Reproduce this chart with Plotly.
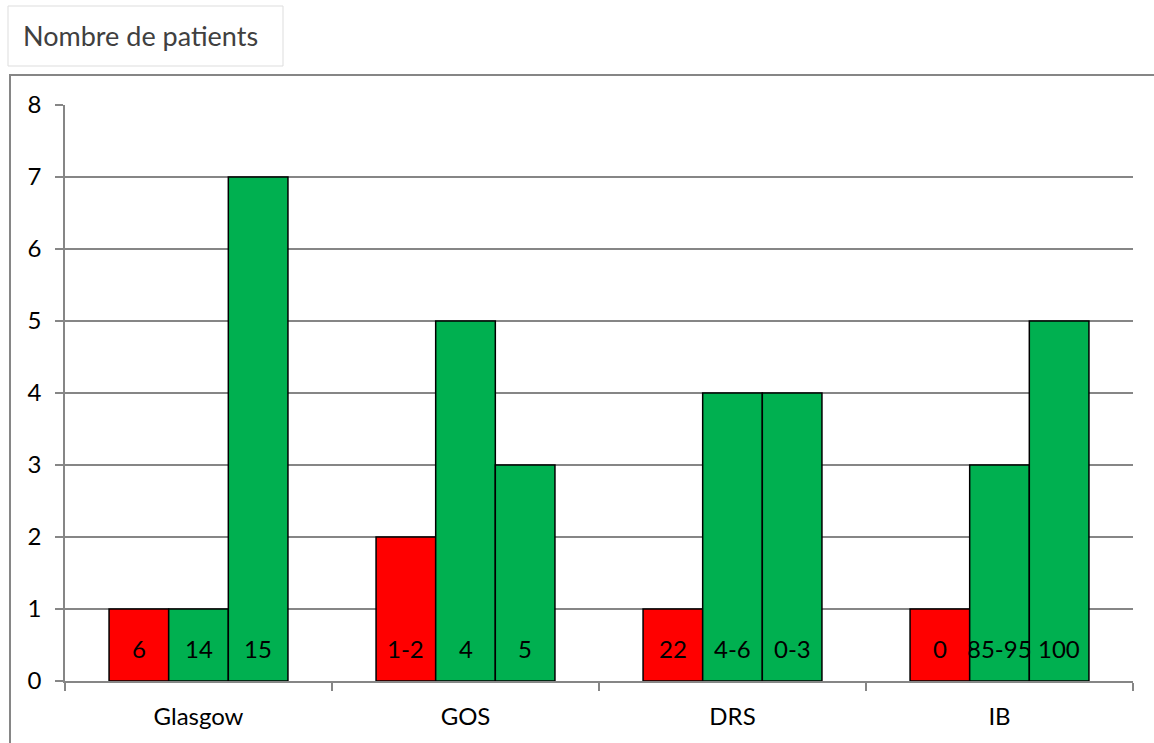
import plotly.graph_objects as go

categories = ["Glasgow", "GOS", "DRS", "IB"]
red_values = [1, 2, 1, 1]
green1_values = [1, 5, 4, 3]
green2_values = [7, 3, 4, 5]
red_labels = ["6", "1-2", "22", "0"]
green1_labels = ["14", "4", "4-6", "85-95"]
green2_labels = ["15", "5", "0-3", "100"]
y_ticks = [0, 1, 2, 3, 4, 5, 6, 7, 8]

FONT = "Lato, Calibri, Carlito, sans-serif"
W, H = 1154, 743
L, R, T, B = 65, 21, 105, 62
PW = W - L - R
PH = H - T - B

def px(x):
    return (x - L) / PW

def py(y):
    return (H - B - y) / PH

fig = go.Figure()
series = [
    (red_values, red_labels, "#FF0000"),
    (green1_values, green1_labels, "#00B050"),
    (green2_values, green2_labels, "#00B050"),
]
for vals, labs, col in series:
    fig.add_trace(go.Bar(
        x=categories, y=vals, marker=dict(color=col, line=dict(color="black", width=1.5)),
        showlegend=False, hoverinfo="skip",
    ))

bargap = 0.33
bw = (1 - bargap) / 3
annotations = []
for j, (vals, labs, col) in enumerate(series):
    for i, lab in enumerate(labs):
        annotations.append(dict(
            x=i + (j - 1) * bw, y=0, xref="x", yref="y", text=lab, showarrow=False,
            yanchor="middle", xanchor="center", yshift=33,
            font=dict(family=FONT, size=24, color="black"),
        ))

annotations.append(dict(
    x=px(21), y=py(35), xref="paper", yref="paper", text="Nombre de patients",
    showarrow=False, xanchor="left", yanchor="middle",
    font=dict(family=FONT, size=27, color="#404040"),
))

shapes = [
    dict(type="rect", xref="paper", yref="paper", x0=px(10), x1=px(1170), y0=py(800), y1=py(75),
         line=dict(color="#868686", width=2), fillcolor="rgba(0,0,0,0)", layer="below"),
    dict(type="rect", xref="paper", yref="paper", x0=px(8), x1=px(283), y0=py(66), y1=py(6),
         line=dict(color="#DDDDDD", width=1), fillcolor="rgba(0,0,0,0)", layer="below"),
]

fig.update_layout(
    width=W, height=H,
    margin=dict(l=L, r=R, t=T, b=B, pad=0),
    paper_bgcolor="white", plot_bgcolor="white",
    barmode="group", bargap=bargap, bargroupgap=0,
    font=dict(family=FONT, size=24, color="black"),
    annotations=annotations, shapes=shapes,
    xaxis=dict(
        type="category", tickson="boundaries", ticks="outside", ticklen=8,
        tickcolor="#868686", tickwidth=1.5, showline=True, linecolor="#868686", linewidth=1.5,
        showgrid=False, tickfont=dict(family=FONT, size=24, color="black"),
        ticklabelstandoff=13,
    ),
    yaxis=dict(
        range=[0, 8], tickvals=y_ticks, ticks="outside", ticklen=8, tickcolor="#868686",
        tickwidth=1.5, showline=True, linecolor="#868686", linewidth=1.5,
        showgrid=True, gridcolor="#868686", gridwidth=1.5, zeroline=False,
        tickfont=dict(family=FONT, size=24, color="black"), ticklabelstandoff=9,
    ),
)

fig.write_html("out.html", config={"displayModeBar": False},
               post_script="document.body.style.margin='0';document.body.style.overflow='hidden';")
